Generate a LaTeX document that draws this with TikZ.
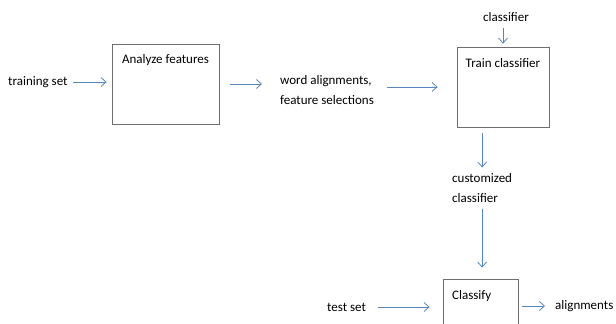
\documentclass[tikz,border=0pt]{standalone}
\usepackage{fontspec}
\setmainfont{Carlito}
\usepackage{xcolor}
\usetikzlibrary{positioning,arrows.meta,calc}
\definecolor{arrowBlue}{HTML}{5685C0}
\definecolor{boxGray}{HTML}{6E6E6E}

\begin{document}
\begin{tikzpicture}[x=1pt, y=-1pt]
    \fontsize{13}{19.5}\selectfont
    \useasboundingbox (0,0) rectangle (616,324);
    \clip (0,0) rectangle (616,324);

    % Shapes
    \tikzstyle{stage}=[rectangle, draw=boxGray, line width=0.8pt, fill=white, inner sep=0pt]
    \tikzstyle{data}=[inner sep=0pt, align=left]
    \tikzstyle{flow}=[draw=arrowBlue, line width=0.8pt, -{Straight Barb[length=5pt, width=9pt]}]

    % Stages
    \node[stage, minimum width=107pt, minimum height=80pt,
        label={[anchor=north, yshift=-6pt]north:Analyze features}] at (165.5,84) (analyze) {};
    \node[stage, minimum width=92pt, minimum height=80pt,
        label={[anchor=north, yshift=-7pt]north:Train classifier}] at (503,87) (train) {};
    \node[stage, minimum width=75pt, minimum height=80pt,
        label={[anchor=north west, xshift=5pt, yshift=-7pt]north west:Classify}] at (480.5,319) (classify) {};

    % Data
    \node[data, anchor=west] at (8,82) (trainset) {training set};
    \node[data, anchor=west] at (280,90) (words) {word alignments,\\feature selections};
    \node[data] at (506,17) (clf) {classifier};
    \node[data, anchor=west] at (452,188) (custom) {customized\\classifier};
    \node[data, anchor=west] at (327,307) (testset) {test set};
    \node[data, anchor=west] at (555,306) (alignments) {alignments};

    % Arrows
    \draw[flow, shorten <=5pt, shorten >=5pt] (trainset.east) -- (trainset.east -| analyze.west);
    \draw[flow, shorten <=11pt, shorten >=18pt] (analyze.east) -- (analyze.east -| words.west);
    \draw[flow, shorten <=13pt, shorten >=19pt] (train.west -| words.east) -- (train.west);
    \draw[flow, shorten <=6pt, shorten >=3pt] (clf.south -| train.north) -- (train.north);
    \draw[flow, shorten <=6pt, shorten >=6pt] (custom.north |- train.south) -- (custom.north);
    \draw[flow, shorten <=6pt, shorten >=11pt] (custom.south) -- (custom.south |- classify.north);
    \draw[flow, shorten <=12pt, shorten >=13pt] (testset.east) -- (testset.east -| classify.west);
    \draw[flow, shorten <=4pt, shorten >=10pt] (alignments.west -| classify.east) -- (alignments.west);
\end{tikzpicture}
\end{document}
